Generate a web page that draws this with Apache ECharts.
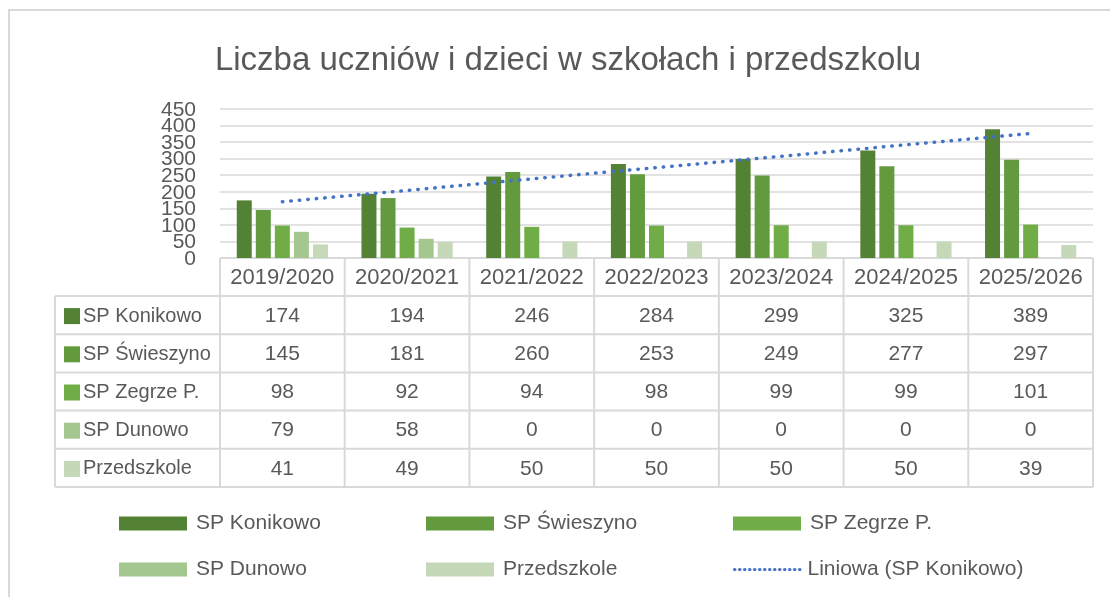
<!DOCTYPE html>
<html>
<head>
<meta charset="utf-8">
<script src="https://cdn.jsdelivr.net/npm/echarts@6/dist/echarts.min.js"></script>
<style>
  html, body { margin: 0; padding: 0; background: #fff; }
  #chart { width: 1110px; height: 597px; }
</style>
</head>
<body>
<div id="chart"></div>
<script>
// dane
const categories = ['2019/2020', '2020/2021', '2021/2022', '2022/2023', '2023/2024', '2024/2025', '2025/2026'];
const spKonikowo = [174, 194, 246, 284, 299, 325, 389];
const spSwieszyno = [145, 181, 260, 253, 249, 277, 297];
const spZegrze = [98, 92, 94, 98, 99, 99, 101];
const spDunowo = [79, 58, 0, 0, 0, 0, 0];
const przedszkole = [41, 49, 50, 50, 50, 50, 39];
// linia trendu (liniowa) dla SP Konikowo
const trendKonikowo = [170, 204, 239, 273, 307, 342, 376];
const yTicks = [0, 50, 100, 150, 200, 250, 300, 350, 400, 450];

const seriesNames = ['SP Konikowo', 'SP Świeszyno', 'SP Zegrze P.', 'SP Dunowo', 'Przedszkole'];
const seriesData = [spKonikowo, spSwieszyno, spZegrze, spDunowo, przedszkole];
const colors = ['#548235', '#639a3e', '#70ad47', '#a4c78f', '#c5d9b9'];
const trendName = 'Liniowa (SP Konikowo)';

const FONT = 'Liberation Sans';
const TXT = '#595959';
const LINE = '#d9d9d9';

// uklad
const gridLeft = 220, gridRight = 1093, gridTop = 109, gridBottom = 258;
const colW = (gridRight - gridLeft) / categories.length;
const tableLeft = 55, headerBottom = 296, rowH = 38.2;

var chart = echarts.init(document.getElementById('chart'), null, { renderer: 'canvas' });

// tabela danych pod wykresem
function buildTable() {
  var els = [];
  var tableBottom = headerBottom + rowH * seriesNames.length;
  // ramka wykresu
  els.push({ type: 'rect', shape: { x: 9, y: 10, width: 1200, height: 700 },
    style: { fill: 'none', stroke: LINE, lineWidth: 2 }, silent: true });
  // linie poziome
  els.push({ type: 'line', shape: { x1: gridLeft, y1: gridBottom, x2: gridRight, y2: gridBottom },
    style: { stroke: LINE, lineWidth: 2 } });
  for (var r = 0; r <= seriesNames.length; r++) {
    var y = headerBottom + r * rowH;
    els.push({ type: 'line', shape: { x1: tableLeft, y1: y, x2: gridRight, y2: y },
      style: { stroke: LINE, lineWidth: 2 } });
  }
  // linie pionowe
  els.push({ type: 'line', shape: { x1: tableLeft, y1: headerBottom, x2: tableLeft, y2: tableBottom },
    style: { stroke: LINE, lineWidth: 2 } });
  for (var c = 0; c <= categories.length; c++) {
    var x = gridLeft + c * colW;
    els.push({ type: 'line', shape: { x1: x, y1: gridBottom, x2: x, y2: tableBottom },
      style: { stroke: LINE, lineWidth: 2 } });
  }
  // naglowki lat
  categories.forEach(function (cat, i) {
    els.push({ type: 'text', x: gridLeft + (i + 0.5) * colW, y: (gridBottom + headerBottom) / 2 + 1,
      style: { text: cat, fill: TXT, font: '22px "' + FONT + '"', align: 'center', verticalAlign: 'middle' } });
  });
  // wiersze
  seriesNames.forEach(function (name, r) {
    var cy = headerBottom + (r + 0.5) * rowH + 1;
    els.push({ type: 'rect', shape: { x: 64, y: cy - 8, width: 16, height: 16 }, style: { fill: colors[r] } });
    els.push({ type: 'text', x: 83, y: cy,
      style: { text: name, fill: TXT, font: '20px "' + FONT + '"', align: 'left', verticalAlign: 'middle' } });
    seriesData[r].forEach(function (v, i) {
      els.push({ type: 'text', x: gridLeft + (i + 0.5) * colW, y: cy,
        style: { text: String(v), fill: TXT, font: '21px "' + FONT + '"', align: 'center', verticalAlign: 'middle' } });
    });
  });
  return els;
}

// legenda - kazdy element osobno, 2 wiersze po 3
var legendPos = [[119, 513], [426, 513], [733, 513], [119, 559], [426, 559], [733, 559]];
var legendNames = seriesNames.concat([trendName]);
var legends = legendNames.map(function (n, i) {
  var lg = {
    data: [n],
    left: legendPos[i][0],
    top: legendPos[i][1],
    padding: 0,
    itemWidth: 68,
    itemHeight: 14,
    itemGap: 0,
    icon: 'rect',
    selectedMode: false,
    textStyle: { color: TXT, fontSize: 21, fontFamily: FONT, padding: [0, 0, 0, 4] }
  };
  if (n === trendName) {
    delete lg.icon;
    lg.itemStyle = { opacity: 0 };
    lg.lineStyle = { color: '#4472c4', width: 3, type: [0.5, 4.5], cap: 'round' };
    lg.textStyle.padding = [0, 0, 0, 0];
  }
  return lg;
});

var series = seriesNames.map(function (name, i) {
  return {
    name: name,
    type: 'bar',
    data: seriesData[i],
    barWidth: 15,
    barGap: '27%',
    itemStyle: { color: colors[i] },
    z: 2
  };
});
series.push({
  name: trendName,
  type: 'line',
  data: trendKonikowo,
  symbol: 'none',
  z: 5,
  lineStyle: { color: '#4472c4', width: 3.5, type: [0.5, 8], cap: 'round' },
  itemStyle: { color: '#4472c4' }
});

var option = {
  backgroundColor: '#ffffff',
  animation: false,
  title: {
    text: 'Liczba uczniów i dzieci w szkołach i przedszkolu',
    left: 563,
    top: 36,
    textAlign: 'center',
    textStyle: { fontFamily: FONT, fontSize: 33, fontWeight: 'normal', color: TXT, lineHeight: 40 }
  },
  legend: legends,
  grid: { left: gridLeft, top: gridTop, width: gridRight - gridLeft, height: gridBottom - gridTop },
  xAxis: {
    type: 'category',
    data: categories,
    axisLine: { show: false },
    axisTick: { show: false },
    axisLabel: { show: false }
  },
  yAxis: {
    type: 'value',
    min: yTicks[0],
    max: yTicks[yTicks.length - 1],
    interval: yTicks[1] - yTicks[0],
    axisLine: { show: false },
    axisTick: { show: false },
    axisLabel: { show: false },
    splitLine: { lineStyle: { color: LINE, width: 1.5 } }
  },
  series: series,
  graphic: buildTable()
};

chart.setOption(option);

// etykiety osi Y - stloczone jak w oryginale, pozycje z osi wykresu
var yLabels = yTicks.map(function (t) {
  var py = chart.convertToPixel({ yAxisIndex: 0 }, t);
  return { type: 'text', x: gridLeft - 24, y: py + 1,
    style: { text: String(t), fill: TXT, font: '21px "' + FONT + '"', align: 'right', verticalAlign: 'middle' } };
});
chart.setOption({ graphic: buildTable().concat(yLabels) });
</script>
</body>
</html>
